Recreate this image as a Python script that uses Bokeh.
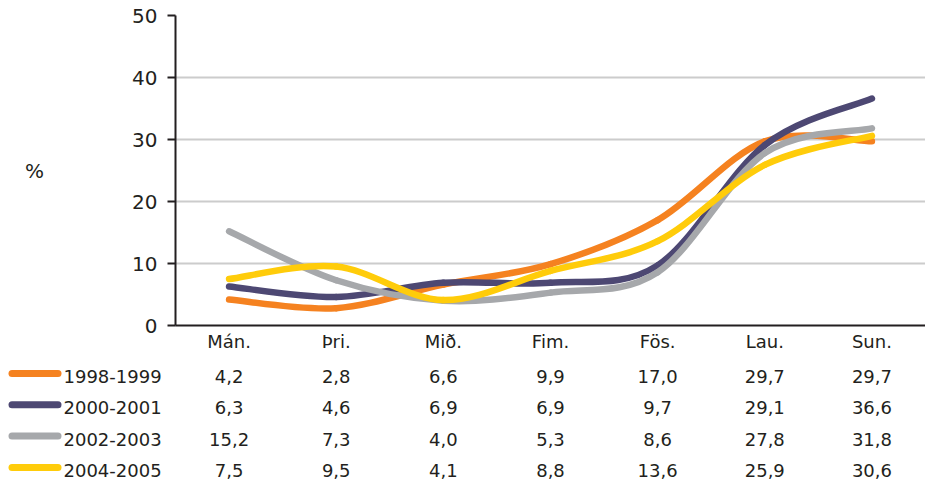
from bokeh.plotting import figure
from bokeh.layouts import column
from bokeh.models import Range1d, FixedTicker, ColumnDataSource
from bokeh.core.properties import value
from bokeh.embed import file_html
from bokeh.resources import INLINE

# ---------------- data ----------------
days = ["Mán.", "Þri.", "Mið.", "Fim.", "Fös.", "Lau.", "Sun."]
series_names = ["1998-1999", "2000-2001", "2002-2003", "2004-2005"]
v_1998_1999 = [4.2, 2.8, 6.6, 9.9, 17.0, 29.7, 29.7]
v_2000_2001 = [6.3, 4.6, 6.9, 6.9, 9.7, 29.1, 36.6]
v_2002_2003 = [15.2, 7.3, 4.0, 5.3, 8.6, 27.8, 31.8]
v_2004_2005 = [7.5, 9.5, 4.1, 8.8, 13.6, 25.9, 30.6]
y_ticks = [0, 10, 20, 30, 40, 50]
y_label = "%"

series_values = [v_1998_1999, v_2000_2001, v_2002_2003, v_2004_2005]
colors = ["#F58220", "#4D4873", "#A6A8AB", "#FFCC0A"]

FONT = "DejaVu Sans"
TXT = "#231F20"

# ---------------- layout constants (px) ----------------
W = 925
LEFT = 175          # left border of chart frame
TOP_BORDER = 15
FRAME_BOTTOM = 325
BOTTOM_BORDER = 36
TOP_H = FRAME_BOTTOM + BOTTOM_BORDER
TABLE_H = 484 - TOP_H
n = len(days)
ppu = (W - LEFT) / n  # px per category
x_start_top = -0.5
x_start_table = -0.5 - LEFT / ppu
row_px = 31.3
row0_px = 15.0


def bezier_segments(ys):
    xs = list(range(len(ys)))
    pts = list(zip(xs, ys))
    m = len(pts)
    out = dict(x0=[], y0=[], x1=[], y1=[], cx0=[], cy0=[], cx1=[], cy1=[])
    for i in range(m - 1):
        p0 = pts[i - 1] if i > 0 else pts[i]
        p1 = pts[i]
        p2 = pts[i + 1]
        p3 = pts[i + 2] if i + 2 < m else pts[i + 1]
        out["x0"].append(p1[0]); out["y0"].append(p1[1])
        out["x1"].append(p2[0]); out["y1"].append(p2[1])
        out["cx0"].append(p1[0] + (p2[0] - p0[0]) / 6.0)
        out["cy0"].append(p1[1] + (p2[1] - p0[1]) / 6.0)
        out["cx1"].append(p2[0] - (p3[0] - p1[0]) / 6.0)
        out["cy1"].append(p2[1] - (p3[1] - p1[1]) / 6.0)
    return out


# ---------------- top chart ----------------
p = figure(width=W, height=TOP_H, output_backend="svg", toolbar_location=None,
           x_range=Range1d(x_start_top, n - 0.5), y_range=Range1d(0, 50),
           min_border_left=LEFT, min_border_right=0, min_border_top=TOP_BORDER,
           min_border_bottom=BOTTOM_BORDER, frame_align=False)
p.outline_line_color = None
p.background_fill_color = "white"
p.border_fill_color = "white"

for vals, col in zip(series_values, colors):
    src = ColumnDataSource(bezier_segments(vals))
    p.bezier(x0="x0", y0="y0", x1="x1", y1="y1", cx0="cx0", cy0="cy0",
             cx1="cx1", cy1="cy1", source=src, line_color=col, line_width=6.5,
             line_cap="round")

p.xgrid.visible = False
p.ygrid.ticker = FixedTicker(ticks=y_ticks)
p.ygrid.grid_line_color = "#CCCCCC"
p.ygrid.grid_line_width = 2

p.yaxis.ticker = FixedTicker(ticks=y_ticks)
p.yaxis.minor_tick_line_color = None
p.yaxis.major_tick_in = 0
p.yaxis.major_tick_out = 8
p.yaxis.major_tick_line_width = 2
p.yaxis.major_tick_line_color = TXT
p.yaxis.axis_line_width = 2
p.yaxis.axis_line_color = TXT
p.yaxis.major_label_text_font = FONT
p.yaxis.major_label_text_font_size = "20px"
p.yaxis.major_label_text_color = TXT
p.yaxis.major_label_standoff = 10
p.yaxis.axis_label = y_label
p.yaxis.axis_label_orientation = "horizontal"
p.yaxis.axis_label_standoff = 85
p.yaxis.axis_label_text_font = FONT
p.yaxis.axis_label_text_font_size = "20px"
p.yaxis.axis_label_text_font_style = "normal"
p.yaxis.axis_label_text_color = TXT

p.xaxis.ticker = FixedTicker(ticks=list(range(n)))
p.xaxis.major_label_overrides = {i: d for i, d in enumerate(days)}
p.xaxis.minor_tick_line_color = None
p.xaxis.major_tick_in = 0
p.xaxis.major_tick_out = 0
p.xaxis.axis_line_width = 2
p.xaxis.axis_line_color = TXT
p.xaxis.major_label_text_font = FONT
p.xaxis.major_label_text_font_size = "18px"
p.xaxis.major_label_text_color = TXT
p.xaxis.major_label_standoff = 5

# ---------------- data table ----------------
y_top = -row0_px / row_px
y_bot = (TABLE_H - row0_px) / row_px
t = figure(width=W, height=TABLE_H, output_backend="svg", toolbar_location=None,
           x_range=Range1d(x_start_table, n - 0.5), y_range=Range1d(y_bot, y_top),
           x_axis_type=None, y_axis_type=None,
           min_border_left=0, min_border_right=0, min_border_top=0,
           min_border_bottom=0, frame_align=False)
t.outline_line_color = None
t.xgrid.visible = False
t.ygrid.visible = False

tx, ty, tt = [], [], []
for r, vals in enumerate(series_values):
    for i, v in enumerate(vals):
        tx.append(i)
        ty.append(r)
        tt.append(f"{v:.1f}".replace(".", ","))
t.text(x=tx, y=ty, text=tt, text_font=value(FONT), text_font_size="18px",
       text_color=TXT, text_align="center", text_baseline="middle")

key_x0 = x_start_table + 11.5 / ppu
key_x1 = x_start_table + 57.5 / ppu
lab_x = x_start_table + 63 / ppu
key_dy = 3 / row_px
rows = list(range(len(series_names)))
t.segment(x0=[key_x0] * len(rows), x1=[key_x1] * len(rows),
          y0=[r - key_dy for r in rows], y1=[r - key_dy for r in rows],
          line_color=colors, line_width=7, line_cap="round")
t.text(x=[lab_x] * len(rows), y=rows, text=series_names, text_font=value(FONT),
       text_font_size="18px", text_color=TXT, text_align="left",
       text_baseline="middle")

layout = column(p, t, spacing=0)
open("out.html", "w").write(file_html(layout, INLINE))
